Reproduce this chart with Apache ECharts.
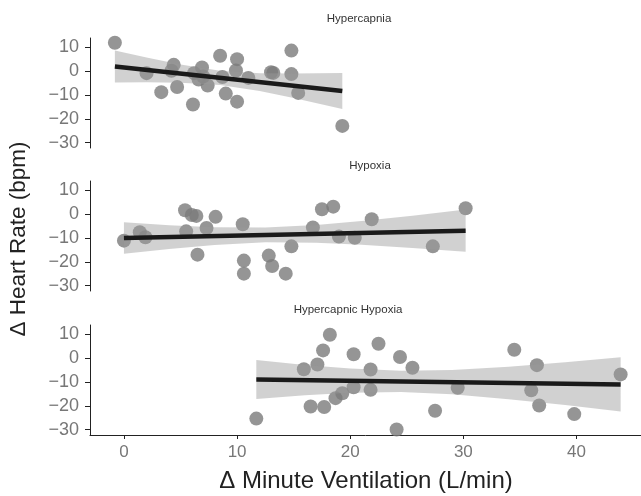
<!DOCTYPE html>
<html>
<head>
<meta charset="utf-8">
<script src="https://cdn.jsdelivr.net/npm/echarts@6/dist/echarts.min.js"></script>
<style>
  html, body { margin: 0; padding: 0; background: #fff; }
  #chart { width: 641px; height: 496px; }
</style>
</head>
<body>
<div id="chart"></div>
<script>
// panel titles
var panelNames = ['Hypercapnia', 'Hypoxia', 'Hypercapnic Hypoxia'];

// Hypercapnia
var hcX = [-0.8, 2.0, 4.4, 4.2, 3.3, 4.7, 6.1, 6.2, 6.9, 6.6, 7.0, 7.4, 8.5, 8.7, 9.0, 10.0, 9.9, 10.0, 11.0, 13.0, 13.2, 14.8, 14.8, 15.4, 19.3];
var hcY = [12.0, -0.8, 2.7, 0.2, -8.8, -6.6, -14.0, -0.8, 1.6, -3.5, -2.2, -6.0, 6.5, -2.4, -9.4, 5.1, 0.3, -12.8, -2.8, -0.4, -0.7, 8.7, -1.2, -9.1, -23.0];
var hcFitX = [-0.8, 19.3];
var hcFitY = [2.0, -8.3];
var hcBandX = [-0.8, 2, 5, 8.5, 12, 15, 19.3];
var hcBandLo = [-4.7, -4.6, -4.8, -5.8, -8.3, -11.3, -15.9];
var hcBandHi = [8.7, 5.8, 2.8, 0.2, -0.8, -0.9, -0.7];

// Hypoxia
var hxX = [0.0, 1.4, 1.9, 5.4, 6.0, 6.4, 5.5, 6.5, 7.3, 8.1, 10.5, 10.6, 10.6, 12.8, 13.1, 14.3, 14.8, 16.7, 17.5, 18.5, 19.0, 20.4, 21.9, 27.3, 30.2];
var hxY = [-11.1, -7.6, -9.7, 1.7, -0.3, -0.7, -7.2, -17.0, -5.8, -1.1, -4.2, -19.5, -25.0, -17.4, -21.8, -25.0, -13.5, -5.6, 2.1, 3.2, -9.4, -9.9, -2.1, -13.5, 2.5];
var hxFitX = [0.0, 30.2];
var hxFitY = [-10.0, -6.9];
var hxBandX = [0, 4, 8, 12.5, 17, 21, 25.5, 30.2];
var hxBandLo = [-16.6, -14.6, -12.9, -11.8, -12.0, -12.8, -14.2, -15.8];
var hxBandHi = [-3.4, -4.6, -5.5, -5.6, -4.5, -2.8, -0.6, 2.0];

// Hypercapnic Hypoxia
var hhX = [11.7, 15.9, 16.5, 17.1, 17.6, 17.7, 18.2, 18.7, 19.3, 20.3, 20.3, 21.8, 21.8, 22.5, 24.1, 24.4, 25.5, 27.5, 29.5, 34.5, 36.0, 36.5, 36.7, 39.8, 43.9];
var hhY = [-25.4, -4.6, -20.3, -2.6, 3.3, -20.5, 9.9, -16.8, -14.7, 1.7, -12.2, -4.7, -13.3, 6.1, -30.0, 0.5, -4.0, -22.1, -12.4, 3.6, -13.5, -2.9, -19.9, -23.5, -6.8];
var hhFitX = [11.7, 43.9];
var hhFitY = [-8.9, -11.0];
var hhBandX = [11.7, 16, 20, 24.5, 29, 34, 39, 43.9];
var hhBandLo = [-17.1, -15.6, -14.5, -14.2, -15.1, -17.2, -19.7, -22.4];
var hhBandHi = [-0.7, -2.8, -4.3, -5.3, -4.9, -3.6, -1.7, 0.4];

var xTicks = [0, 10, 20, 30, 40];
var yTicks = [-30, -20, -10, 0, 10];

var panels = [
	{ x: hcX, y: hcY, fx: hcFitX, fy: hcFitY, bx: hcBandX, lo: hcBandLo, hi: hcBandHi },
	{ x: hxX, y: hxY, fx: hxFitX, fy: hxFitY, bx: hxBandX, lo: hxBandLo, hi: hxBandHi },
	{ x: hhX, y: hhY, fx: hhFitX, fy: hhFitY, bx: hhBandX, lo: hhBandLo, hi: hhBandHi }
];

var fontFam = '"Liberation Sans", Arial, Helvetica, sans-serif';
var gridTops = [38, 181, 325];
var gridH = 110;
var titleLeft = [359, 370, 348];
var titleTops = [13, 160, 304];

function minus(v) {
	return String(v).replace('-', '\u2212');
}

var grids = [], xAxes = [], yAxes = [], series = [], titles = [];

for (var i = 0; i < panels.length; i++) {
	var p = panels[i];
	var last = (i == panels.length - 1);
	grids.push({ left: 90, right: 0, top: gridTops[i], height: gridH });
	titles.push({
		text: panelNames[i],
		left: titleLeft[i],
		top: titleTops[i],
		padding: 0,
		textAlign: 'center',
		textStyle: { fontFamily: fontFam, fontSize: 11.5, fontWeight: 'normal', color: '#333' }
	});
	xAxes.push({
		gridIndex: i,
		type: 'value',
		min: -3,
		max: 45.7,
		show: last,
		axisLine: { show: true, onZero: false, lineStyle: { color: '#222', width: 1 } },
		axisTick: { show: true, length: 4, customValues: xTicks, lineStyle: { color: '#222' } },
		axisLabel: { show: true, customValues: xTicks, margin: 9, fontSize: 17, color: '#777', fontFamily: fontFam },
		splitLine: { show: false }
	});
	yAxes.push({
		gridIndex: i,
		type: 'value',
		min: -32.3,
		max: 14,
		axisLine: { show: true, onZero: false, lineStyle: { color: '#222', width: 1 } },
		axisTick: { show: true, length: 5, customValues: yTicks, lineStyle: { color: '#222' } },
		axisLabel: {
			customValues: yTicks, margin: 11, fontSize: 18, color: '#777', fontFamily: fontFam,
			formatter: minus
		},
		splitLine: { show: false }
	});

	var pts = [];
	for (var j = 0; j < p.x.length; j++) pts.push([p.x[j], p.y[j]]);
	series.push({
		type: 'scatter',
		xAxisIndex: i,
		yAxisIndex: i,
		data: pts,
		symbolSize: 14,
		itemStyle: { color: '#7a7a7a', opacity: 0.8 },
		z: 2
	});

	var band = [];
	for (var k = 0; k < p.bx.length; k++) band.push([p.bx[k], p.lo[k], p.hi[k]]);
	series.push({
		type: 'custom',
		xAxisIndex: i,
		yAxisIndex: i,
		data: [0],
		silent: true,
		z: 3,
		renderItem: (function(band) {
			return function(params, api) {
				var pts = [];
				for (var m = 0; m < band.length; m++) pts.push(api.coord([band[m][0], band[m][2]]));
				for (var m = band.length - 1; m >= 0; m--) pts.push(api.coord([band[m][0], band[m][1]]));
				return {
					type: 'polygon',
					shape: { points: pts },
					style: { fill: '#999999', opacity: 0.45 }
				};
			};
		})(band)
	});

	var fit = [];
	for (var q = 0; q < p.fx.length; q++) fit.push([p.fx[q], p.fy[q]]);
	series.push({
		type: 'line',
		xAxisIndex: i,
		yAxisIndex: i,
		data: fit,
		symbol: 'none',
		lineStyle: { color: '#1a1a1a', width: 4.5 },
		z: 4
	});
}

var myChart = echarts.init(document.getElementById('chart'));
var option = {
	animation: false,
	backgroundColor: '#fff',
	title: titles,
	grid: grids,
	xAxis: xAxes,
	yAxis: yAxes,
	series: series,
	graphic: [{
		type: 'text',
		rotation: Math.PI / 2,
		style: { text: '\u0394 Heart Rate (bpm)', font: '22.5px ' + fontFam, fill: '#222', textAlign: 'center', textVerticalAlign: 'middle' },
		x: 19, y: 239
	}, {
		type: 'text',
		style: { text: '\u0394 Minute Ventilation (L/min)', font: '24px ' + fontFam, fill: '#222', textAlign: 'center', textVerticalAlign: 'middle' },
		x: 366, y: 481
	}]
};
myChart.setOption(option);
window.onresize = function() {
	myChart.resize();
}
</script>
</body>
</html>
